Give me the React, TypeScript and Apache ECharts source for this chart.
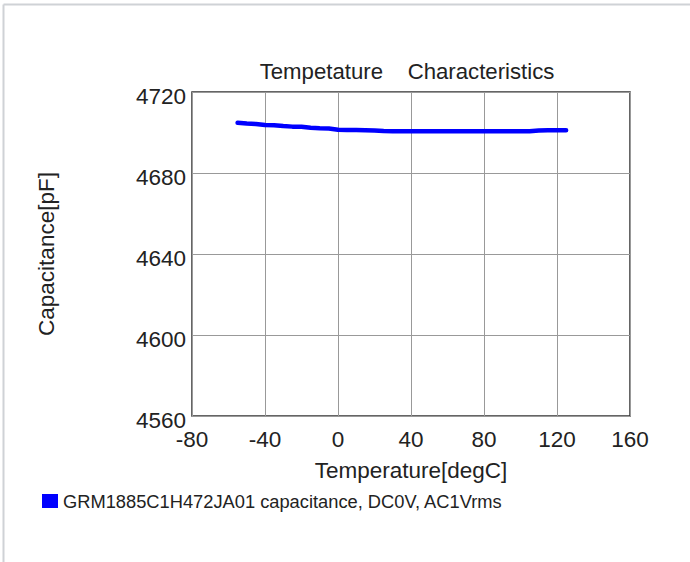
import React, { useEffect, useRef } from "react";
import * as echarts from "echarts";

const temperatures = [-55, -50, -45, -40, -35, -30, -25, -20, -15, -10, -5, 0, 5, 10, 15, 20, 25, 30, 35, 40, 45, 50, 55, 60, 65, 70, 75, 80, 85, 90, 95, 100, 105, 110, 115, 120, 125];
const capacitance = [4704.8, 4704.4, 4704.2, 4703.7, 4703.6, 4703.2, 4702.9, 4702.8, 4702.3, 4702.1, 4702.0, 4701.4, 4701.2, 4701.2, 4701.1, 4701.0, 4700.7, 4700.6, 4700.6, 4700.6, 4700.6, 4700.6, 4700.6, 4700.6, 4700.6, 4700.6, 4700.6, 4700.6, 4700.6, 4700.6, 4700.6, 4700.6, 4700.6, 4701.0, 4701.1, 4701.1, 4701.1];

const seriesName = "GRM1885C1H472JA01 capacitance, DC0V, AC1Vrms";
const chartTitle = "Tempetature    Characteristics";
const xAxisName = "Temperature[degC]";
const yAxisName = "Capacitance[pF]";

const FONT = "'Liberation Sans', Arial, sans-serif";
const TEXT = "#222";

export default function App() {
  const ref = useRef<HTMLDivElement>(null);
  useEffect(() => {
    if (!ref.current) return;
    const chart = echarts.init(ref.current, null, { renderer: "svg" });
    chart.setOption({
      animation: false,
      textStyle: { fontFamily: FONT },
      title: {
        text: chartTitle,
        left: 402,
        top: 55,
        textAlign: "center",
        textStyle: { fontFamily: FONT, fontSize: 22.2, fontWeight: "normal", color: TEXT },
      },
      grid: {
        left: 192,
        right: 60,
        top: 92,
        bottom: 146,
        show: true,
        borderColor: "#333",
        borderWidth: 1.5,
        backgroundColor: "#fff",
      },
      legend: {
        left: 42,
        top: 492,
        padding: 0,
        icon: "rect",
        itemWidth: 16,
        itemHeight: 14,
        textStyle: { fontFamily: FONT, fontSize: 18.3, color: TEXT },
        data: [seriesName],
      },
      xAxis: {
        type: "value",
        min: -80,
        max: 160,
        interval: 40,
        name: xAxisName,
        nameLocation: "middle",
        nameGap: 43,
        nameTextStyle: { fontFamily: FONT, fontSize: 22.5, color: TEXT },
        axisLine: { show: false },
        axisTick: { show: false },
        axisLabel: { margin: 12, fontFamily: FONT, fontSize: 22.5, color: TEXT },
        splitLine: { show: true, lineStyle: { color: "#999", width: 1 } },
      },
      yAxis: {
        type: "value",
        min: 4560,
        max: 4720,
        interval: 40,
        name: yAxisName,
        nameLocation: "middle",
        nameGap: 134,
        nameTextStyle: { fontFamily: FONT, fontSize: 22.5, color: TEXT },
        axisLine: { show: false },
        axisTick: { show: false },
        axisLabel: {
          margin: 6,
          fontFamily: FONT,
          fontSize: 22.5,
          color: TEXT,
          verticalAlign: "top",
          lineHeight: 8,
          formatter: (v: number) => String(v),
        },
        splitLine: { show: true, lineStyle: { color: "#999", width: 1 } },
      },
      graphic: [
        { type: "line", shape: { x1: 3.5, y1: 4.5, x2: 3.5, y2: 562 }, style: { stroke: "#cfd2d6", lineWidth: 2 }, silent: true },
        { type: "line", shape: { x1: 3.5, y1: 4.5, x2: 690, y2: 4.5 }, style: { stroke: "#cfd2d6", lineWidth: 2 }, silent: true },
      ],
      series: [
        {
          name: seriesName,
          type: "line",
          data: temperatures.map((t, i) => [t, capacitance[i]]),
          showSymbol: false,
          symbol: "none",
          lineStyle: { color: "#0000ff", width: 4.5, cap: "round" },
          itemStyle: { color: "#0000ff" },
        },
      ],
    });
    return () => chart.dispose();
  }, []);
  return (
    <div
      ref={ref}
      style={{ position: "fixed", left: 0, top: 0, width: 690, height: 562, background: "#fff" }}
    />
  );
}
